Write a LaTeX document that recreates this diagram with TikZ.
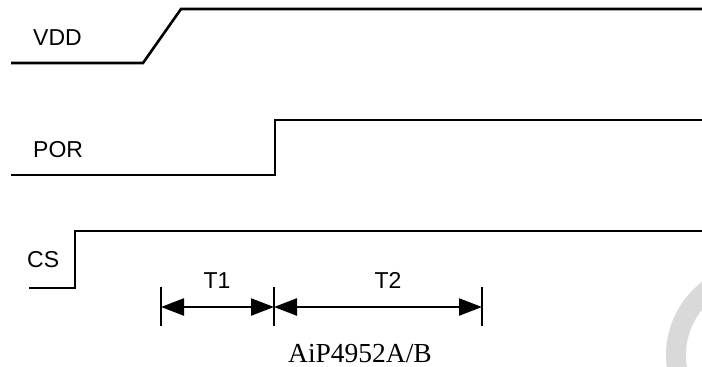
\documentclass[tikz,border=0pt]{standalone}
\usepackage{fontspec}
\setmainfont{Liberation Sans}
\newfontfamily\partfont{Liberation Serif}
\usetikzlibrary{positioning,calc,arrows.meta}

\begin{document}
\begin{tikzpicture}[
    x=1pt, y=-1pt,
    wave/.style={draw, line width=2.6pt, line join=miter},
    label/.style={font=\fontsize{23}{23}\selectfont, inner sep=0pt, anchor=base west},
    tick/.style={draw, line width=2.4pt},
    dim/.style={draw, line width=2.4pt, {Triangle[length=23pt,width=17pt]}-{Triangle[length=23pt,width=17pt]}}
]
    \useasboundingbox (0,0) rectangle (702,367);
    % Watermark arc
    \draw[line width=20pt, black!15] (758,355) ++(166:82) arc[start angle=166, end angle=245, radius=82];

    % Signals
    \path [wave] (11,63) -- (143,63) -- (181,9) -- (702,9);
    \path [wave] (11,175) -- (275,175) -- (275,120) -- (702,120);
    \path [wave] (29,288) -- (75,288) -- (75,231) -- (702,231);

    % Labels
    \node (vdd) [label] at (33,45) {VDD};
    \node (por) [label] at (33,157) {POR};
    \node (cs) [label] at (27,267) {CS};

    % Timing marks
    \coordinate (t0) at (161,307);
    \coordinate (t1) at (274,307);
    \coordinate (t2) at (482,307);
    \foreach \t in {t0,t1,t2}
        \path [tick] ($(\t)+(0,-20)$) -- ($(\t)+(0,19)$);
    \path [dim] (t0) -- (t1);
    \path [dim] (t1) -- (t2);
    \node (T1) [label, anchor=base] at (217,288) {T1};
    \node (T2) [label, anchor=base] at (388,288) {T2};

    \node (part) [inner sep=0pt, anchor=base, font=\partfont\fontsize{27.5}{27.5}\selectfont] at (360,362) {AiP4952A/B};
\end{tikzpicture}
\end{document}
